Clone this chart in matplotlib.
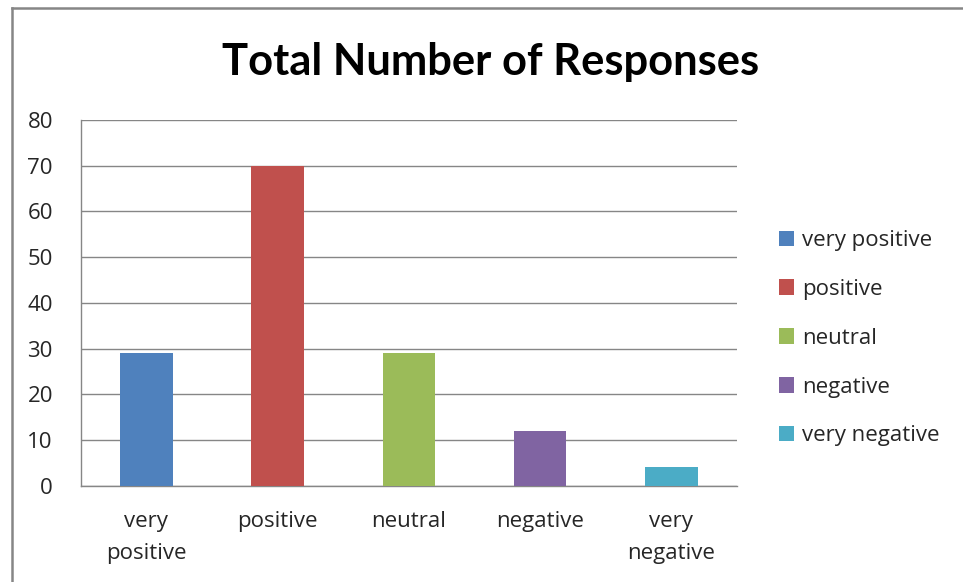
import matplotlib
matplotlib.use("Agg")
import matplotlib.pyplot as plt
from matplotlib.lines import Line2D

categories = ["very positive", "positive", "neutral", "negative", "very negative"]
tick_labels = ["very\npositive", "positive", "neutral", "negative", "very\nnegative"]
values = [29, 70, 29, 12, 4]
colors = ["#4F81BD", "#C0504D", "#9BBB59", "#8064A2", "#4BACC6"]
yticks = [0, 10, 20, 30, 40, 50, 60, 70, 80]

plt.rcParams['font.family'] = ['Open Sans', 'DejaVu Sans']

fig = plt.figure(figsize=(9.63, 5.82), dpi=100)
ax = fig.add_axes([0.0838, 0.1655, 0.6815, 0.6284])

x = list(range(len(categories)))
ax.bar(x, values, width=0.40, color=colors, label=categories, zorder=3)

ax.set_xlim(-0.5, len(categories) - 0.5)
ax.set_ylim(0, 80)
ax.set_yticks(yticks)
ax.set_xticks(x)
ax.set_xticklabels(tick_labels, linespacing=1.68)
ax.yaxis.grid(True, color="#868686", linewidth=1.0, zorder=0)
ax.set_axisbelow(True)

for s in ["top", "right"]:
    ax.spines[s].set_visible(False)
for s in ["left", "bottom"]:
    ax.spines[s].set_color("#868686")
    ax.spines[s].set_linewidth(1.0)

ax.tick_params(axis="y", length=0, pad=20, labelsize=16, labelcolor="#262626")
ax.tick_params(axis="x", length=0, pad=18, labelsize=16, labelcolor="#262626")
for t in ax.get_xticklabels():
    t.set_verticalalignment("top")

fig.text(491 / 963, 1 - 62 / 582, "Total Number of Responses", ha="center", va="center",
         fontsize=31.3, fontweight="bold", family=["Lato", "DejaVu Sans"], color="black")

leg = ax.legend(loc="center left", bbox_to_anchor=(1.05, 0.403), frameon=False,
                fontsize=16, handlelength=0.7, handleheight=0.7, handletextpad=0.35,
                labelspacing=1.25, borderaxespad=0)
for txt in leg.get_texts():
    txt.set_color("#262626")

# chart frame lines (top and left)
fig.add_artist(Line2D([12 / 963, 1.0], [1 - 8 / 582, 1 - 8 / 582], transform=fig.transFigure,
                      color="#868686", linewidth=1.8))
fig.add_artist(Line2D([12 / 963, 12 / 963], [0, 1 - 8 / 582], transform=fig.transFigure,
                      color="#868686", linewidth=1.8))

fig.savefig("out.png", dpi=100)
